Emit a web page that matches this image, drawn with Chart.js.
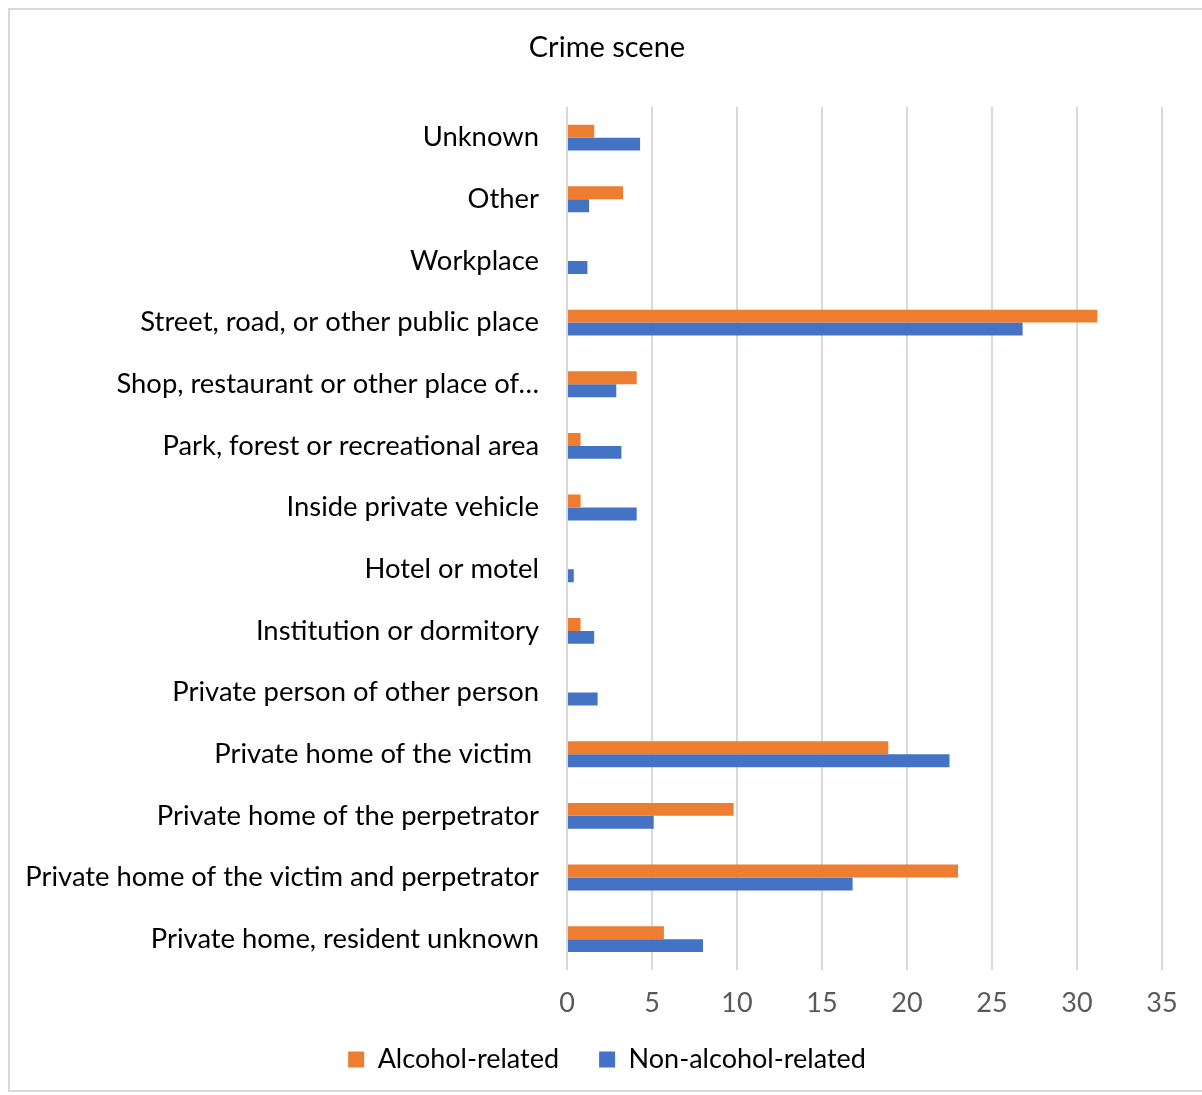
<!DOCTYPE html>
<html lang="en">
<head>
  <meta charset="UTF-8">
  <title>Crime scene</title>
  <style>
    body { margin: 0; background: #fff; }
    .wrap { position: relative; width: 1202px; height: 1095px; }
    .frame { position: absolute; left: 8px; top: 8px; width: 1200px; height: 1084px; border: 2px solid #d9d9d9; box-sizing: border-box; pointer-events: none; }
    canvas { position: absolute; left: 0; top: 0; }
  </style>
</head>
<body>
  <div class="wrap">
    <canvas id="graphic" width="1202" height="1095"></canvas>
    <div class="frame"></div>
  </div>

  <script src="https://cdn.jsdelivr.net/npm/chart.js"></script>
  <script>
    const escenas = [
      "Unknown",
      "Other",
      "Workplace",
      "Street, road, or other public place",
      "Shop, restaurant or other place of…",
      "Park, forest or recreational area",
      "Inside private vehicle",
      "Hotel or motel",
      "Institution or dormitory",
      "Private person of other person",
      "Private home of the victim ",
      "Private home of the perpetrator",
      "Private home of the victim and perpetrator",
      "Private home, resident unknown"
    ];
    const alcohol = [1.6, 3.3, 0, 31.2, 4.1, 0.8, 0.8, 0, 0.8, 0, 18.9, 9.8, 23.0, 5.7];
    const sinAlcohol = [4.3, 1.3, 1.2, 26.8, 2.9, 3.2, 4.1, 0.4, 1.6, 1.8, 22.5, 5.1, 16.8, 8.0];
    const ejeX = [0, 5, 10, 15, 20, 25, 30, 35];

    const fuente = "Lato, 'Open Sans', sans-serif";

    // las etiquetas de los ejes no deben recortarse en el borde de cada eje
    const sinRecorte = {
      id: 'sinRecorte',
      afterLayout(chart) {
        chart.scales.y.left = 0;
        chart.scales.x.bottom = chart.height;
      }
    };

    const lienzo = document.getElementById("graphic");
    const grafico = new Chart(lienzo, {
      type: 'bar',
      data: {
        labels: escenas,
        datasets: [
          {
            label: 'Alcohol-related',
            backgroundColor: '#ED7D31',
            data: alcohol
          },
          {
            label: 'Non-alcohol-related',
            backgroundColor: '#4472C4',
            data: sinAlcohol
          }
        ]
      },
      options: {
        indexAxis: 'y',
        responsive: false,
        animation: false,
        categoryPercentage: 0.42,
        barPercentage: 1,
        layout: {
          padding: { left: 52, right: 40, top: 28, bottom: 12 }
        },
        scales: {
          x: {
            min: ejeX[0],
            max: ejeX[ejeX.length - 1],
            afterBuildTicks: (axis) => {
              axis.ticks = ejeX.map(v => ({ value: v }));
            },
            afterFit: (scale) => { scale.height = 36; },
            grid: {
              color: '#d9d9d9',
              lineWidth: 2,
              drawTicks: false
            },
            border: { display: false },
            ticks: {
              color: '#595959',
              padding: 17,
              font: { family: fuente, size: 27 }
            }
          },
          y: {
            grid: { display: false, drawTicks: false },
            border: { display: false },
            afterFit: (scale) => { scale.width = 515; },
            ticks: {
              color: '#000',
              padding: 28,
              autoSkip: false,
              font: { family: fuente, size: 27.4 }
            }
          }
        },
        plugins: {
          title: {
            display: true,
            text: 'Crime scene',
            color: '#000',
            font: { family: fuente, size: 29, weight: 'normal' },
            padding: { top: 2, bottom: 42 }
          },
          legend: {
            position: 'bottom',
            labels: {
              color: '#000',
              boxWidth: 16,
              boxHeight: 16,
              padding: 40,
              font: { family: fuente, size: 27 }
            }
          },
          tooltip: { enabled: false }
        }
      },
      plugins: [sinRecorte]
    });
  </script>
</body>
</html>
